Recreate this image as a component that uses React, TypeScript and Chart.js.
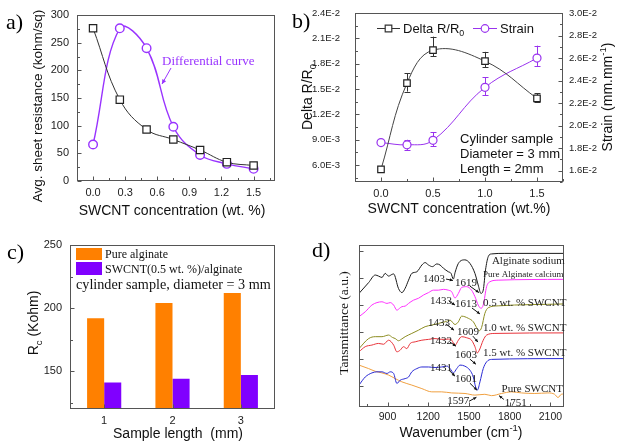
import React, { useEffect, useRef } from 'react';
import { Chart, registerables } from 'chart.js';

Chart.register(...registerables);

const SANS = "'Liberation Sans', Arial, Helvetica, sans-serif";
const SERIF = "'Liberation Serif', 'Times New Roman', Times, serif";
const FRAME = '#555555';

// ---------------- Panel a ----------------
const aConcentration = [0, 0.25, 0.5, 0.75, 1.0, 1.25, 1.5];
const aSheetResistance = [276, 147, 93, 75, 56, 34, 28];
const aDifferential = [66, 276, 240, 98, 47, 31, 22];
const aXTicks = [0, 0.3, 0.6, 0.9, 1.2, 1.5];
const aYTicks = [0, 50, 100, 150, 200, 250, 300];

// ---------------- Panel b ----------------
const bConcentration = [0, 0.25, 0.5, 1.0, 1.5];
const bDeltaR = [0.0055, 0.0157, 0.0196, 0.0183, 0.0139];
const bDeltaRErrUp = [0, 0.00115, 0.0016, 0.0011, 0.0006];
const bDeltaRErrDown = [0, 0.001, 0.0007, 0.0007, 0.0004];
const bStrain = [0.0185, 0.0183, 0.0187, 0.0234, 0.026];
const bStrainErrUp = [0, 0.00045, 0.0007, 0.0009, 0.0011];
const bStrainErrDown = [0, 0.00045, 0.0005, 0.0007, 0.0007];
const bXTicks = [0, 0.5, 1.0, 1.5];
const bLeftTicks = [0.006, 0.009, 0.012, 0.015, 0.018, 0.021, 0.024];
const bRightTicks = [0.016, 0.018, 0.02, 0.022, 0.024, 0.026, 0.028, 0.03];

// ---------------- Panel c ----------------
const cLengths = ['1', '2', '3'];
const cPureAlginate = [192, 204, 212];
const cSwcntAlginate = [141, 144, 147];
const cYTicks = [150, 200, 250];

// ---------------- Panel d ----------------
const dXTicks = [900, 1200, 1500, 1800, 2100];
const dYTicks = [0, 1, 2, 3, 4, 5];
const dAlginateSodium = [
  [690, 3.42], [761, 3.82], [810, 4.1], [834, 4.06], [859, 4.01], [883, 4.16], [908, 4.06], [932, 4.12],
  [945, 4.14], [981, 3.6], [1006, 3.45], [1030, 3.61], [1055, 3.91], [1079, 4.16], [1116, 4.22], [1153, 4.47],
  [1177, 4.56], [1202, 4.47], [1231, 4.41], [1263, 4.51], [1287, 4.47], [1312, 4.35], [1348, 4.22], [1368, 4.16],
  [1385, 3.95], [1398, 4.2], [1422, 4.53], [1470, 4.66], [1507, 4.53], [1544, 4.16], [1568, 3.73], [1588, 3.42],
  [1605, 3.54], [1622, 4.29], [1642, 4.78], [1666, 4.88], [1764, 4.9], [2200, 4.9],
];
const dAlginateCalcium = [
  [690, 2.56], [736, 2.74], [785, 2.99], [822, 3.08], [859, 3.11], [896, 3.05], [920, 3.08], [945, 2.99],
  [969, 2.8], [989, 2.87], [1006, 2.93], [1030, 2.95], [1055, 3.05], [1091, 3.17], [1128, 3.24], [1165, 3.36],
  [1202, 3.45], [1238, 3.54], [1275, 3.54], [1312, 3.57], [1348, 3.54], [1373, 3.48], [1397, 3.25], [1422, 3.42],
  [1446, 3.64], [1483, 3.67], [1519, 3.54], [1544, 3.3], [1568, 2.99], [1588, 2.87], [1605, 2.99], [1630, 3.67],
  [1654, 3.85], [1715, 3.91], [2200, 3.94],
];
const dSwcnt05 = [
  [690, 1.38], [761, 1.75], [810, 1.82], [859, 1.82], [908, 1.88], [937, 1.79], [957, 1.75], [981, 1.67],
  [1006, 1.74], [1030, 1.82], [1079, 1.94], [1128, 2.06], [1177, 2.19], [1226, 2.25], [1275, 2.31], [1324, 2.37],
  [1361, 2.43], [1397, 2.27], [1422, 2.37], [1446, 2.58], [1495, 2.5], [1532, 2.37], [1556, 2.16], [1576, 2.04],
  [1593, 2.16], [1617, 2.68], [1642, 2.89], [1715, 2.96], [2200, 3.03],
];
const dSwcnt10 = [
  [690, 1.26], [736, 1.45], [785, 1.51], [834, 1.57], [871, 1.54], [908, 1.69], [945, 1.51], [969, 1.26],
  [993, 1.32], [1018, 1.45], [1042, 1.38], [1067, 1.57], [1104, 1.63], [1153, 1.69], [1202, 1.72], [1250, 1.75],
  [1299, 1.72], [1348, 1.73], [1373, 1.69], [1397, 1.5], [1422, 1.69], [1446, 1.82], [1483, 1.78], [1519, 1.69],
  [1544, 1.45], [1561, 1.22], [1576, 1.32], [1605, 1.69], [1630, 1.88], [1691, 1.94], [2200, 1.96],
];
const dSwcnt15 = [
  [690, 0.03], [736, 0.33], [785, 0.48], [822, 0.52], [859, 0.52], [896, 0.46], [920, 0.52], [945, 0.46],
  [969, 0.09], [993, 0.21], [1030, 0.27], [1055, 0.33], [1079, 0.52], [1116, 0.64], [1153, 0.7], [1202, 0.7],
  [1250, 0.68], [1299, 0.7], [1336, 0.73], [1361, 0.64], [1385, 0.48], [1410, 0.64], [1434, 0.77], [1470, 0.73],
  [1507, 0.58], [1532, 0.33], [1549, -0.04], [1563, -0.15], [1581, 0.15], [1605, 0.64], [1630, 0.89], [1666, 0.98],
  [2200, 1.01],
];
const dPureSwcnt = [
  [690, 0.77], [761, 0.64], [810, 0.54], [859, 0.48], [908, 0.4], [957, 0.27], [1006, 0.15], [1079, 0.03],
  [1153, -0.1], [1226, -0.22], [1299, -0.22], [1373, -0.26], [1471, -0.28], [1544, -0.34], [1617, -0.31],
  [1666, -0.36], [1740, -0.28], [1813, -0.22], [1887, -0.26], [1985, -0.28], [2082, -0.26], [2131, -0.31],
  [2156, -0.43], [2180, -0.31], [2200, -0.3],
];
const dCurveNames = ['Alginate sodium', 'Pure Alginate calcium', '0.5 wt. % SWCNT', '1.0 wt. % SWCNT', '1.5 wt. % SWCNT', 'Pure SWCNT'];
const dPeakLabels = ['1403', '1619', '1433', '1613', '1433', '1609', '1432', '1603', '1431', '1601', '1597', '1751'];

// ---------------- helpers ----------------
type Part = { t: string; sub?: boolean; sup?: boolean };
type TextItem = {
  parts: Part[] | string; x: number; y: number; size: number; family?: string; color?: string;
  align?: 'left' | 'center' | 'right'; rot?: number; data?: boolean;
};
type ArrowItem = { x1: number; y1: number; x2: number; y2: number; color: string; data?: boolean; head?: number };
type RectItem = { x: number; y: number; w: number; h: number; color: string };
type LegendItem = { x1: number; x2: number; y: number; color: string; style: 'rect' | 'circle'; r: number };

function drawRich(ctx: CanvasRenderingContext2D, item: TextItem, x: number, y: number) {
  const parts: Part[] = typeof item.parts === 'string' ? [{ t: item.parts }] : item.parts;
  const fam = item.family || SANS;
  const size = item.size;
  const fontFor = (p: Part) => `${p.sub || p.sup ? size * 0.68 : size}px ${fam}`;
  let total = 0;
  const widths = parts.map((p) => {
    ctx.font = fontFor(p);
    const w = ctx.measureText(p.t).width;
    total += w;
    return w;
  });
  ctx.save();
  ctx.translate(x, y);
  if (item.rot) ctx.rotate(item.rot);
  let x0 = item.align === 'center' ? -total / 2 : item.align === 'right' ? -total : 0;
  ctx.fillStyle = item.color || '#111';
  ctx.textBaseline = 'alphabetic';
  ctx.textAlign = 'left';
  parts.forEach((p, i) => {
    ctx.font = fontFor(p);
    const dy = p.sub ? size * 0.3 : p.sup ? -size * 0.42 : 0;
    ctx.fillText(p.t, x0, size * 0.35 + dy);
    x0 += widths[i];
  });
  ctx.restore();
}

function drawArrow(ctx: CanvasRenderingContext2D, x1: number, y1: number, x2: number, y2: number, color: string, head = 4) {
  ctx.save();
  ctx.strokeStyle = color;
  ctx.fillStyle = color;
  ctx.lineWidth = 1;
  ctx.beginPath();
  ctx.moveTo(x1, y1);
  ctx.lineTo(x2, y2);
  ctx.stroke();
  const ang = Math.atan2(y2 - y1, x2 - x1);
  ctx.beginPath();
  ctx.moveTo(x2, y2);
  ctx.lineTo(x2 - head * Math.cos(ang - 0.45), y2 - head * Math.sin(ang - 0.45));
  ctx.lineTo(x2 - head * Math.cos(ang + 0.45), y2 - head * Math.sin(ang + 0.45));
  ctx.closePath();
  ctx.fill();
  ctx.restore();
}

function decorPlugin(spec: { texts?: TextItem[]; arrows?: ArrowItem[]; rects?: RectItem[]; legend?: LegendItem[] }) {
  return {
    id: 'decor',
    afterDraw(chart: any) {
      const ctx: CanvasRenderingContext2D = chart.ctx;
      const xs = chart.scales.x;
      const ys = chart.scales.y;
      const conv = (x: number, y: number, data?: boolean) =>
        data ? [xs.getPixelForValue(x), ys.getPixelForValue(y)] : [x, y];
      (spec.rects || []).forEach((r) => {
        ctx.fillStyle = r.color;
        ctx.fillRect(r.x, r.y, r.w, r.h);
      });
      (spec.legend || []).forEach((l) => {
        ctx.save();
        ctx.strokeStyle = l.color;
        ctx.lineWidth = 1;
        ctx.beginPath();
        ctx.moveTo(l.x1, l.y + 0.5);
        ctx.lineTo(l.x2, l.y + 0.5);
        ctx.stroke();
        const cx = (l.x1 + l.x2) / 2;
        ctx.fillStyle = '#fff';
        ctx.lineWidth = 1.2;
        ctx.beginPath();
        if (l.style === 'rect') ctx.rect(cx - l.r, l.y - l.r + 0.5, 2 * l.r, 2 * l.r);
        else ctx.arc(cx, l.y + 0.5, l.r, 0, Math.PI * 2);
        ctx.fill();
        ctx.stroke();
        ctx.restore();
      });
      (spec.arrows || []).forEach((a) => {
        const [x1, y1] = conv(a.x1, a.y1, a.data);
        const [x2, y2] = conv(a.x2, a.y2, a.data);
        drawArrow(ctx, x1, y1, x2, y2, a.color, a.head);
      });
      (spec.texts || []).forEach((t) => {
        const [x, y] = conv(t.x, t.y, t.data);
        drawRich(ctx, t, x, y);
      });
    },
  };
}

type TickSpec = { id: string; side: 'left' | 'right' | 'bottom'; minor: boolean; out?: boolean };
function framePlugin(specs: TickSpec[]) {
  return {
    id: 'frameTicks',
    afterDatasetsDraw(chart: any) {
      const ctx: CanvasRenderingContext2D = chart.ctx;
      const ca = chart.chartArea;
      ctx.save();
      ctx.strokeStyle = FRAME;
      ctx.lineWidth = 1;
      const L = Math.round(ca.left) + 0.5;
      const R = Math.round(ca.right) - 0.5;
      const T = Math.round(ca.top) + 0.5;
      const B = Math.round(ca.bottom) - 0.5;
      ctx.strokeRect(L, T, R - L, B - T);
      for (const s of specs) {
        const sc = chart.scales[s.id];
        const px: number[] = sc.ticks.map((_: any, i: number) => sc.getPixelForTick(i));
        const dir = s.out ? -1 : 1;
        const draw = (p: number, len: number) => {
          const q = Math.round(p) + 0.5;
          ctx.beginPath();
          if (s.side === 'left') {
            if (p < ca.top - 0.5 || p > ca.bottom + 0.5) return;
            ctx.moveTo(L, q);
            ctx.lineTo(L + dir * len, q);
          } else if (s.side === 'right') {
            if (p < ca.top - 0.5 || p > ca.bottom + 0.5) return;
            ctx.moveTo(R, q);
            ctx.lineTo(R - dir * len, q);
          } else {
            if (p < ca.left - 0.5 || p > ca.right + 0.5) return;
            ctx.moveTo(q, B);
            ctx.lineTo(q, B - dir * len);
          }
          ctx.stroke();
        };
        px.forEach((p) => draw(p, 4));
        if (s.minor && px.length > 1) {
          for (let i = 0; i < px.length - 1; i++) draw((px[i] + px[i + 1]) / 2, 2.5);
          draw(px[0] - (px[1] - px[0]) / 2, 2.5);
          const n = px.length - 1;
          draw(px[n] + (px[n] - px[n - 1]) / 2, 2.5);
        }
      }
      ctx.restore();
    },
  };
}

const NO_GRID = { display: false, drawTicks: false, tickLength: 0 };

function linScale(o: {
  axis: 'x' | 'y'; position: string; min: number; max: number; ticks: number[]; fmt?: (v: number) => string;
  size: number; fixed: number; pad: number; labels?: boolean;
}) {
  return {
    type: 'linear',
    position: o.position,
    min: o.min,
    max: o.max,
    grid: NO_GRID,
    border: { display: false },
    afterBuildTicks: (s: any) => {
      s.ticks = o.ticks.map((v) => ({ value: v }));
    },
    afterFit: (s: any) => {
      if (o.axis === 'x') s.height = o.fixed;
      else s.width = o.fixed;
      s.paddingLeft = 0; s.paddingRight = 0; s.paddingTop = 0; s.paddingBottom = 0;
    },
    ticks: {
      display: o.labels !== false,
      callback: (v: any) => (o.fmt ? o.fmt(Number(v)) : String(v)),
      font: { family: SANS, size: o.size },
      color: '#222',
      padding: o.pad,
      maxRotation: 0,
      minRotation: 0,
      autoSkip: false,
    },
  };
}

const expFmt = (v: number) => v.toExponential(1).toUpperCase();

function ChartBox(props: { left: number; top: number; width: number; height: number; make: (c: HTMLCanvasElement) => Chart }) {
  const ref = useRef<HTMLCanvasElement>(null);
  useEffect(() => {
    const chart = props.make(ref.current as HTMLCanvasElement);
    return () => chart.destroy();
  }, []);
  return (
    <div style={{ position: 'absolute', left: props.left, top: props.top, width: props.width, height: props.height }}>
      <canvas ref={ref} width={props.width} height={props.height} style={{ width: props.width, height: props.height, display: 'block' }} />
    </div>
  );
}

const baseOpts = {
  animation: false,
  responsive: false,
  maintainAspectRatio: false,
  devicePixelRatio: 1,
  events: [],
};

// ---------------- chart builders ----------------
function makeA(canvas: HTMLCanvasElement) {
  const purple = '#9933ff';
  return new Chart(canvas, {
    type: 'line',
    data: {
      datasets: [
        {
          data: aConcentration.map((x, i) => ({ x, y: aSheetResistance[i] })),
          borderColor: '#333', borderWidth: 1, tension: 0.4,
          pointStyle: 'rect', pointRadius: 5.2, pointBorderColor: '#222', pointBorderWidth: 1.2,
          pointBackgroundColor: '#fff', clip: 8,
        },
        {
          data: aConcentration.map((x, i) => ({ x, y: aDifferential[i] })),
          borderColor: purple, borderWidth: 1.4, tension: 0.4,
          pointStyle: 'circle', pointRadius: 4.3, pointBorderColor: purple, pointBorderWidth: 1.4,
          pointBackgroundColor: '#fff', clip: 8,
        },
      ],
    },
    options: {
      ...baseOpts,
      layout: { padding: { left: 0, right: 25, top: 15, bottom: 0 } },
      plugins: { legend: { display: false }, tooltip: { enabled: false } },
      scales: {
        x: linScale({ axis: 'x', position: 'bottom', min: -0.15, max: 1.7, ticks: aXTicks, fmt: (v) => v.toFixed(1), size: 11, fixed: 41, pad: 5 }),
        y: linScale({ axis: 'y', position: 'left', min: 0, max: 300, ticks: aYTicks, size: 11, fixed: 77, pad: 8 }),
      },
    } as any,
    plugins: [
      framePlugin([{ id: 'x', side: 'bottom', minor: true }, { id: 'y', side: 'left', minor: true }]),
      decorPlugin({
        texts: [
          { parts: 'a)', x: 6, y: 21, size: 22, family: SERIF, color: '#000' },
          { parts: 'Avg. sheet resistance (kohm/sq)', x: 37, y: 106, size: 13.5, rot: -Math.PI / 2, align: 'center' },
          { parts: 'SWCNT concentration (wt. %)', x: 172, y: 210, size: 14, align: 'center' },
          { parts: 'Differential curve', x: 162, y: 60, size: 13, family: SERIF, color: purple },
        ],
        arrows: [{ x1: 171, y1: 68, x2: 162, y2: 84, color: purple, head: 5 }],
      }),
    ],
  });
}

function makeB(canvas: HTMLCanvasElement) {
  const purple = '#9933ee';
  const errPlugin = {
    id: 'errbars',
    beforeDatasetsDraw(chart: any) {
      const ctx: CanvasRenderingContext2D = chart.ctx;
      const xs = chart.scales.x;
      const series = [
        { vals: bDeltaR, up: bDeltaRErrUp, dn: bDeltaRErrDown, axis: chart.scales.y, color: '#333' },
        { vals: bStrain, up: bStrainErrUp, dn: bStrainErrDown, axis: chart.scales.yR, color: purple },
      ];
      ctx.save();
      ctx.lineWidth = 1;
      series.forEach((s) => {
        ctx.strokeStyle = s.color;
        bConcentration.forEach((c, i) => {
          if (!s.up[i] && !s.dn[i]) return;
          const x = Math.round(xs.getPixelForValue(c)) + 0.5;
          const yt = s.axis.getPixelForValue(s.vals[i] + s.up[i]);
          const yb = s.axis.getPixelForValue(s.vals[i] - s.dn[i]);
          ctx.beginPath();
          ctx.moveTo(x, yt); ctx.lineTo(x, yb);
          ctx.moveTo(x - 3, Math.round(yt) + 0.5); ctx.lineTo(x + 3, Math.round(yt) + 0.5);
          ctx.moveTo(x - 3, Math.round(yb) + 0.5); ctx.lineTo(x + 3, Math.round(yb) + 0.5);
          ctx.stroke();
        });
      });
      ctx.restore();
    },
  };
  return new Chart(canvas, {
    type: 'line',
    data: {
      datasets: [
        {
          data: bConcentration.map((x, i) => ({ x, y: bDeltaR[i] })), yAxisID: 'y',
          borderColor: '#444', borderWidth: 1, tension: 0.4,
          pointStyle: 'rect', pointRadius: 4.6, pointBorderColor: '#222', pointBorderWidth: 1.2,
          pointBackgroundColor: '#fff', clip: 8,
        },
        {
          data: bConcentration.map((x, i) => ({ x, y: bStrain[i] })), yAxisID: 'yR',
          borderColor: purple, borderWidth: 1, tension: 0.4,
          pointStyle: 'circle', pointRadius: 4, pointBorderColor: purple, pointBorderWidth: 1.2,
          pointBackgroundColor: '#fff', clip: 8,
        },
      ],
    },
    options: {
      ...baseOpts,
      layout: { padding: { left: 0, right: 0, top: 13, bottom: 0 } },
      plugins: { legend: { display: false }, tooltip: { enabled: false } },
      scales: {
        x: linScale({ axis: 'x', position: 'bottom', min: -0.25, max: 1.75, ticks: bXTicks, fmt: (v) => v.toFixed(1), size: 11, fixed: 40, pad: 5 }),
        y: linScale({ axis: 'y', position: 'left', min: 0.004, max: 0.024, ticks: bLeftTicks, fmt: expFmt, size: 9.5, fixed: 65, pad: 15 }),
        yR: linScale({ axis: 'y', position: 'right', min: 0.015, max: 0.03, ticks: bRightTicks, fmt: expFmt, size: 9.5, fixed: 54, pad: 6 }),
      },
    } as any,
    plugins: [
      errPlugin,
      framePlugin([
        { id: 'x', side: 'bottom', minor: true },
        { id: 'y', side: 'left', minor: true },
        { id: 'yR', side: 'right', minor: true },
      ]),
      decorPlugin({
        legend: [
          { x1: 87, x2: 110, y: 28, color: '#333', style: 'rect', r: 3.3 },
          { x1: 183, x2: 207, y: 28, color: purple, style: 'circle', r: 3.8 },
        ],
        texts: [
          { parts: 'b)', x: 2, y: 20, size: 22, family: SERIF, color: '#000' },
          { parts: [{ t: 'Delta R/R' }, { t: '0', sub: true }], x: 17, y: 97, size: 14, rot: -Math.PI / 2, align: 'center' },
          { parts: [{ t: 'Strain (mm.mm' }, { t: '-1', sup: true }, { t: ')' }], x: 317, y: 97, size: 14, rot: -Math.PI / 2, align: 'center' },
          { parts: 'SWCNT concentration (wt.%)', x: 169, y: 208, size: 14, align: 'center' },
          { parts: [{ t: 'Delta R/R' }, { t: '0', sub: true }], x: 113, y: 28, size: 13 },
          { parts: 'Strain', x: 210, y: 28, size: 13 },
          { parts: 'Cylinder sample', x: 170, y: 138, size: 13 },
          { parts: 'Diameter = 3 mm', x: 170, y: 153, size: 13 },
          { parts: 'Length = 2mm', x: 170, y: 168, size: 13 },
        ],
      }),
    ],
  });
}

function makeC(canvas: HTMLCanvasElement) {
  const orange = '#ff8000';
  const violet = '#8000ff';
  return new Chart(canvas, {
    type: 'bar',
    data: {
      labels: cLengths,
      datasets: [
        { data: cPureAlginate, backgroundColor: orange, borderWidth: 0, categoryPercentage: 0.5, barPercentage: 1.0 },
        { data: cSwcntAlginate, backgroundColor: violet, borderWidth: 0, categoryPercentage: 0.5, barPercentage: 1.0 },
      ],
    },
    options: {
      ...baseOpts,
      layout: { padding: { left: 0, right: 25, top: 23, bottom: 0 } },
      plugins: { legend: { display: false }, tooltip: { enabled: false } },
      scales: {
        x: {
          type: 'category',
          grid: NO_GRID,
          border: { display: false },
          afterFit: (s: any) => { s.height = 33; s.paddingLeft = 0; s.paddingRight = 0; },
          ticks: { font: { family: SANS, size: 11 }, color: '#222', padding: 5, maxRotation: 0 },
        },
        y: linScale({ axis: 'y', position: 'left', min: 120, max: 250, ticks: cYTicks, size: 11, fixed: 70, pad: 8 }),
      },
    } as any,
    plugins: [
      framePlugin([{ id: 'x', side: 'bottom', minor: false }, { id: 'y', side: 'left', minor: true }]),
      decorPlugin({
        rects: [
          { x: 76, y: 26, w: 26, h: 12, color: orange },
          { x: 76, y: 40, w: 26, h: 13, color: violet },
        ],
        texts: [
          { parts: 'c)', x: 7, y: 29, size: 22, family: SERIF, color: '#000' },
          { parts: [{ t: 'R' }, { t: 'c', sub: true }, { t: ' (Kohm)' }], x: 33, y: 101, size: 14, rot: -Math.PI / 2, align: 'center' },
          { parts: 'Sample length  (mm)', x: 178, y: 211, size: 14, align: 'center' },
          { parts: 'Pure alginate', x: 105, y: 32, size: 12, family: SERIF },
          { parts: 'SWCNT(0.5 wt. %)/alginate', x: 105, y: 47, size: 12, family: SERIF },
          { parts: 'cylinder sample, diameter = 3 mm', x: 76, y: 62, size: 14.2, family: SERIF },
        ],
      }),
    ],
  });
}

function makeD(canvas: HTMLCanvasElement) {
  const spectra = [
    { d: dAlginateSodium, c: '#1a1a1a' },
    { d: dAlginateCalcium, c: '#ff30ff' },
    { d: dSwcnt05, c: '#8c8c20' },
    { d: dSwcnt10, c: '#e8333a' },
    { d: dSwcnt15, c: '#2a2ad4' },
    { d: dPureSwcnt, c: '#f0a040' },
  ];
  const lab = (t: string, x: number, y: number, size = 11): TextItem => ({ parts: t, x, y, size, family: SERIF, color: '#222', data: true });
  const arr = (x1: number, y1: number, x2: number, y2: number): ArrowItem => ({ x1, y1, x2, y2, color: '#111', data: true, head: 3.5 });
  return new Chart(canvas, {
    type: 'line',
    data: {
      datasets: spectra.map((s) => ({
        data: s.d.map((p) => ({ x: p[0], y: p[1] })),
        borderColor: s.c, borderWidth: 1, pointRadius: 0, cubicInterpolationMode: 'monotone',
      })),
    },
    options: {
      ...baseOpts,
      layout: { padding: { left: 0, right: 53, top: 23, bottom: 0 } },
      plugins: { legend: { display: false }, tooltip: { enabled: false } },
      scales: {
        x: linScale({ axis: 'x', position: 'bottom', min: 690, max: 2200, ticks: dXTicks, size: 10.5, fixed: 35, pad: 4 }),
        y: linScale({ axis: 'y', position: 'left', min: -0.78, max: 5.21, ticks: dYTicks, size: 10, fixed: 59, pad: 4, labels: false }),
      },
    } as any,
    plugins: [
      framePlugin([{ id: 'x', side: 'bottom', minor: true }, { id: 'y', side: 'left', minor: false }]),
      decorPlugin({
        arrows: [
          arr(1331, 3.95, 1382, 3.9),
          arr(1507, 3.69, 1573, 3.45),
          arr(1353, 3.13, 1397, 2.99),
          arr(1522, 2.88, 1581, 2.66),
          arr(1331, 2.29, 1390, 2.06),
          arr(1529, 1.84, 1566, 1.62),
          arr(1360, 1.62, 1404, 1.47),
          arr(1507, 0.99, 1551, 0.8),
          arr(1353, 0.58, 1397, 0.36),
          arr(1507, 0.1, 1559, -0.16),
          arr(1500, -0.57, 1555, -0.42),
          arr(1757, -0.5, 1722, -0.36),
        ],
        texts: [
          { parts: 'd)', x: 12, y: 27, size: 22, family: SERIF, color: '#000' },
          { parts: 'Tansmittance (a.u.)', x: 43, y: 101, size: 13.5, family: SERIF, rot: -Math.PI / 2, align: 'center' },
          { parts: [{ t: 'Wavenumber (cm' }, { t: '-1', sup: true }, { t: ')' }], x: 161, y: 210, size: 14, align: 'center' },
          lab(dCurveNames[0], 1669, 4.66),
          lab(dCurveNames[1], 1603, 4.13, 9),
          lab(dCurveNames[2], 1603, 3.11),
          lab(dCurveNames[3], 1603, 2.16),
          lab(dCurveNames[4], 1603, 1.26),
          lab(dCurveNames[5], 1740, -0.1),
          lab(dPeakLabels[0], 1161, 3.98),
          lab(dPeakLabels[1], 1397, 3.85),
          lab(dPeakLabels[2], 1213, 3.17),
          lab(dPeakLabels[3], 1397, 3.05),
          lab(dPeakLabels[4], 1199, 2.37),
          lab(dPeakLabels[5], 1412, 2.04),
          lab(dPeakLabels[6], 1213, 1.69),
          lab(dPeakLabels[7], 1397, 1.17),
          lab(dPeakLabels[8], 1213, 0.7),
          lab(dPeakLabels[9], 1397, 0.27),
          lab(dPeakLabels[10], 1340, -0.53),
          lab(dPeakLabels[11], 1764, -0.59),
        ],
      }),
    ],
  });
}

export default function App() {
  return (
    <div style={{ position: 'absolute', left: 0, top: 0, width: 617, height: 442, background: '#fff', overflow: 'hidden' }}>
      <ChartBox left={0} top={0} width={300} height={222} make={makeA} />
      <ChartBox left={290} top={0} width={327} height={222} make={makeB} />
      <ChartBox left={0} top={222} width={300} height={220} make={makeC} />
      <ChartBox left={300} top={222} width={317} height={220} make={makeD} />
    </div>
  );
}
